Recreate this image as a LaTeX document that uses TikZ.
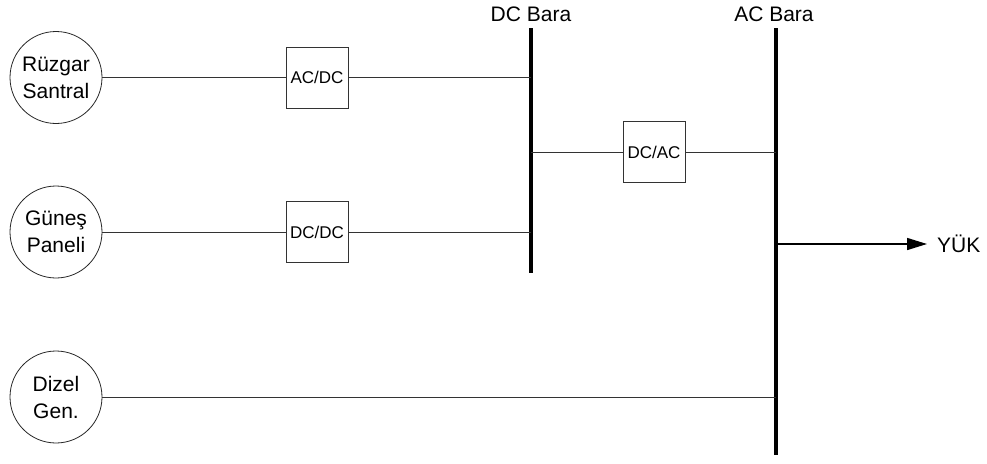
\documentclass[tikz,border=0pt]{standalone}
\usepackage{fontspec}
\setmainfont{Liberation Sans}
\usetikzlibrary{arrows.meta}
\begin{document}
\begin{tikzpicture}[x=1pt,y=-1pt,
  src/.style={draw=black!85,line width=0.8pt,circle,minimum size=92pt,inner sep=0pt,align=center,font=\fontsize{21}{27}\selectfont},
  conv/.style={draw=black!80,line width=0.8pt,minimum width=62pt,minimum height=61pt,inner sep=0pt,font=\fontsize{17}{20}\selectfont},
  wire/.style={draw=black!80,line width=0.8pt},
  bus/.style={line width=4pt,draw=black},
  lbl/.style={font=\fontsize{21}{24}\selectfont,inner sep=0pt}]
\useasboundingbox (0,0) rectangle (987,463);
% sources
\node[src] (rz) at (56,77.5) {Rüzgar\\Santral};
\node[src] (gp) at (56,232) {Güneş\\Paneli};
\node[src] (dg) at (56,397) {Dizel\\Gen.};
% converters
\node[conv] (acdc) at (317,77.5) {AC/DC};
\node[conv] (dcdc) at (317,232) {DC/DC};
\node[conv] (dcac) at (654,152) {DC/AC};
% buses
\coordinate (dcT) at (531,28);
\coordinate (dcB) at (531,273);
\coordinate (acT) at (776,28);
\coordinate (acB) at (776,455);
\draw[bus] (dcT) -- (dcB);
\draw[bus] (acT) -- (acB);
\node[lbl,anchor=base] (dclbl) at (531,21) {DC Bara};
\node[lbl,anchor=base] (aclbl) at (774,21) {AC Bara};
% wires
\draw[wire] (rz.east) -- (acdc.west);
\draw[wire] (acdc.east) -- (acdc.east -| dcT);
\draw[wire] (gp.east) -- (dcdc.west);
\draw[wire] (dcdc.east) -- (dcdc.east -| dcT);
\draw[wire] (dcac.west -| dcT) -- (dcac.west);
\draw[wire] (dcac.east) -- (dcac.east -| acT);
\draw[wire] (dg.east) -- (dg.east -| acT);
% load
\node[lbl,anchor=west] (yuk) at (937,244) {YÜK};
\coordinate (yukS) at (776,244);
\draw[line width=1.5pt,-{Triangle[length=20pt,width=12pt]}] (yukS) -- ([xshift=-10pt]yuk.west);
\end{tikzpicture}
\end{document}
